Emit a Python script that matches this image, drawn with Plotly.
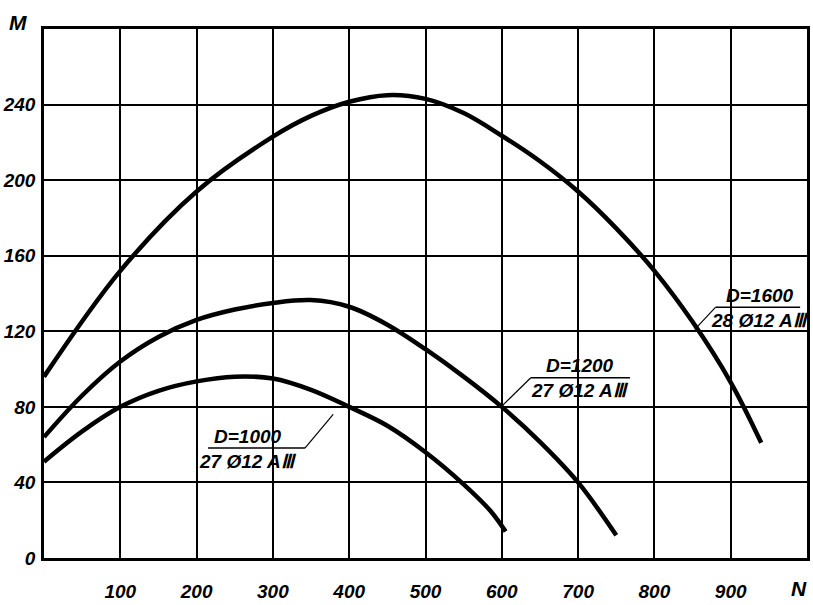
import plotly.graph_objects as go

# Bending moment M vs axial force N for three pile diameters
n_1600 = [0, 100, 200, 300, 350, 400, 450, 500, 550, 600, 650, 700, 750, 800, 850, 900, 940]
m_1600 = [96, 152, 194, 223, 234, 241.5, 245, 243, 235.5, 223.5, 210, 194, 174.5, 152, 125, 93, 61]

n_1200 = [0, 50, 100, 150, 200, 250, 300, 350, 400, 450, 500, 550, 600, 650, 700, 750]
m_1200 = [64, 86, 104, 117, 126, 131.5, 135, 136.5, 133, 123.5, 110.5, 96, 80, 61.5, 40, 12]

n_1000 = [0, 50, 100, 150, 200, 250, 300, 350, 400, 450, 500, 550, 585, 605]
m_1000 = [51, 67, 80, 88.5, 93.5, 96, 95, 89, 80, 70, 56, 39, 25, 14]

x_ticks = [100, 200, 300, 400, 500, 600, 700, 800, 900]
y_ticks = [0, 40, 80, 120, 160, 200, 240]

labels = [
    # (top line, bottom line, text centre N, underline N from/to, underline M, leader end N, M)
    ("D=1600", "28 Ø12 A\u2162", 938, 880, 991, 132.7, 853, 121),
    ("D=1200", "27 Ø12 A\u2162", 703, 638, 768, 95.4, 599, 80),
    ("D=1000", "27 Ø12 A\u2162", 268, 215, 342, 58.2, 379, 76),
]

FONT = "Liberation Sans, Arial, sans-serif"

fig = go.Figure()
for n, m in [(n_1600, m_1600), (n_1200, m_1200), (n_1000, m_1000)]:
    fig.add_trace(go.Scatter(
        x=n, y=m, mode="lines",
        line=dict(color="black", width=4.5, shape="spline", smoothing=1.0),
        hoverinfo="skip", showlegend=False,
    ))

label_font = dict(family=FONT, size=19, color="black", style="italic", weight="bold")

for top, bottom, xc, x0, x1, yu, xl, yl in labels:
    fig.add_shape(type="line", x0=x0, x1=x1, y0=yu, y1=yu,
                  line=dict(color="black", width=1.5))
    fig.add_shape(type="line", x0=x0 if xl < x0 else x1, x1=xl, y0=yu, y1=yl,
                  line=dict(color="black", width=1.2))
    fig.add_annotation(x=xc, y=yu, yshift=12, text=top, showarrow=False,
                       font=label_font)
    fig.add_annotation(x=xc, y=yu, yshift=-13, text=bottom, showarrow=False,
                       font=label_font)

axis_font = dict(family=FONT, size=19, color="black", style="italic", weight="bold")

fig.add_annotation(x=0, y=280, xref="x", yref="y", xshift=-26, yshift=7,
                   text="M", showarrow=False, font=dict(axis_font, size=21))
fig.add_annotation(x=990, y=0, xref="x", yref="y", yshift=-30,
                   text="N", showarrow=False, font=dict(axis_font, size=21))

fig.update_xaxes(
    range=[0, 1000], tickvals=x_ticks, ticktext=[str(v) for v in x_ticks],
    showgrid=True, gridcolor="black", gridwidth=1.5,
    showline=True, linecolor="black", linewidth=2.5, mirror=True,
    zeroline=False, ticks="", tickfont=axis_font, ticklabelstandoff=14,
)
fig.update_yaxes(
    range=[0, 280], tickvals=y_ticks, ticktext=[str(v) for v in y_ticks],
    showgrid=True, gridcolor="black", gridwidth=1.5,
    showline=True, linecolor="black", linewidth=2.5, mirror=True,
    zeroline=False, ticks="", tickfont=axis_font, ticklabelstandoff=2,
)

fig.update_layout(
    width=813, height=605,
    margin=dict(l=42, r=3, t=29, b=42),
    paper_bgcolor="white", plot_bgcolor="white",
    showlegend=False,
)

fig.write_html("out.html")
